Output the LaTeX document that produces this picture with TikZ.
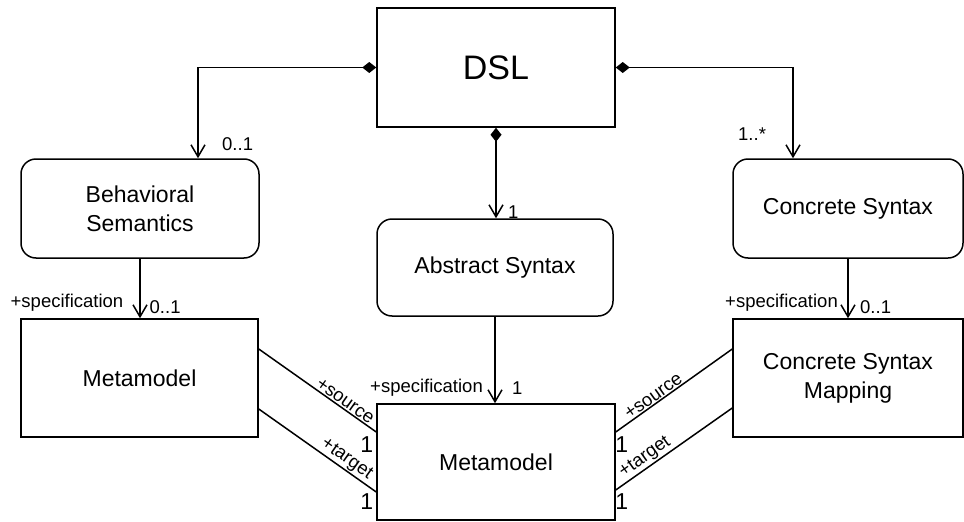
\documentclass[tikz,border=0pt]{standalone}
\usepackage{fontspec}
\setmainfont{Liberation Sans}
\usetikzlibrary{arrows.meta,calc}

\begin{document}
\begin{tikzpicture}[x=1pt, y=-1pt,
  box/.style={draw, line width=1.5pt, align=center, inner sep=0pt, font=\fontsize{23}{29}\selectfont},
  roundbox/.style={box, rounded corners=15pt},
  comp/.style={line width=1.5pt, {Diamond[length=14pt,width=11pt]}-{Straight Barb[length=12pt,width=14pt]}},
  assoc/.style={line width=1.5pt, -{Straight Barb[length=12pt,width=14pt]}},
  link/.style={line width=1.5pt},
  lbl/.style={font=\fontsize{18.5}{22}\selectfont, inner sep=1pt},
  one/.style={font=\fontsize{23}{27}\selectfont, inner sep=0pt}]
\useasboundingbox (0,0) rectangle (964,522);

% boxes
\node[box, minimum width=238pt, minimum height=119pt, font=\fontsize{34}{40}\selectfont] (dsl) at (496,67.5) {DSL};
\node[roundbox, minimum width=238pt, minimum height=99pt] (beh) at (140,208.5) {Behavioral\\Semantics};
\node[roundbox, minimum width=236pt, minimum height=97pt] (abs) at (495,267.5) {Abstract Syntax};
\node[roundbox, minimum width=230pt, minimum height=99pt] (con) at (848,208.5) {Concrete Syntax};
\node[box, minimum width=237pt, minimum height=118pt] (mmL) at (139.5,378) {Metamodel};
\node[box, minimum width=238pt, minimum height=116pt] (mmC) at (496,462) {Metamodel};
\node[box, minimum width=230pt, minimum height=118pt] (csm) at (848,378) {Concrete Syntax\\Mapping};

% composition
\draw[comp] (dsl.west) -| ($(beh.north)+(58,0)$);
\draw[comp] (dsl.east) -| ($(con.north)+(-55,0)$);
\draw[comp] (dsl.south) -- (dsl.south |- abs.north);
\node[lbl, anchor=west] (mBeh) at (221,144) {0..1};
\node[lbl, anchor=west] (mCon) at (737,134) {1..*};
\node[lbl, anchor=west] (mAbs) at (507,212) {1};

% specification
\draw[assoc] (beh.south) -- (beh.south |- mmL.north);
\draw[assoc] (abs.south) -- (abs.south |- mmC.north);
\draw[assoc] (con.south) -- (con.south |- csm.north);
\node[lbl, anchor=east] (sL) at ($(mmL.north)+(-15,-16)$) {+specification};
\node[lbl, anchor=west] (nL) at ($(mmL.north)+(9,-11)$) {0..1};
\node[lbl, anchor=east] (sC) at ($(mmC.north)+(-12,-16)$) {+specification};
\node[lbl, anchor=west] (nC) at ($(mmC.north)+(15,-15)$) {1};
\node[lbl, anchor=east] (sR) at ($(csm.north)+(-9,-16)$) {+specification};
\node[lbl, anchor=west] (nR) at ($(csm.north)+(11,-11)$) {0..1};

% source and target
\draw[link] ($(mmL.east)+(0,-29)$) -- node[lbl, sloped, above, pos=0.7] (srcL) {+source} ($(mmC.west)+(0,-30)$);
\draw[link] ($(mmL.east)+(0,31)$) -- node[lbl, sloped, above, pos=0.7] (tgtL) {+target} ($(mmC.west)+(0,30)$);
\draw[link] ($(mmC.east)+(0,-30)$) -- node[lbl, sloped, above, pos=0.36] (srcR) {+source} ($(csm.west)+(0,-29)$);
\draw[link] ($(mmC.east)+(0,28)$) -- node[lbl, sloped, above, pos=0.3] (tgtR) {+target} ($(csm.west)+(0,30)$);
\node[one] (oL1) at ($(mmC.west)+(-9.5,-17.5)$) {1};
\node[one] (oL2) at ($(mmC.west)+(-9.5,40)$) {1};
\node[one] (oR1) at ($(mmC.east)+(6,-17.5)$) {1};
\node[one] (oR2) at ($(mmC.east)+(6,40)$) {1};
\end{tikzpicture}
\end{document}
